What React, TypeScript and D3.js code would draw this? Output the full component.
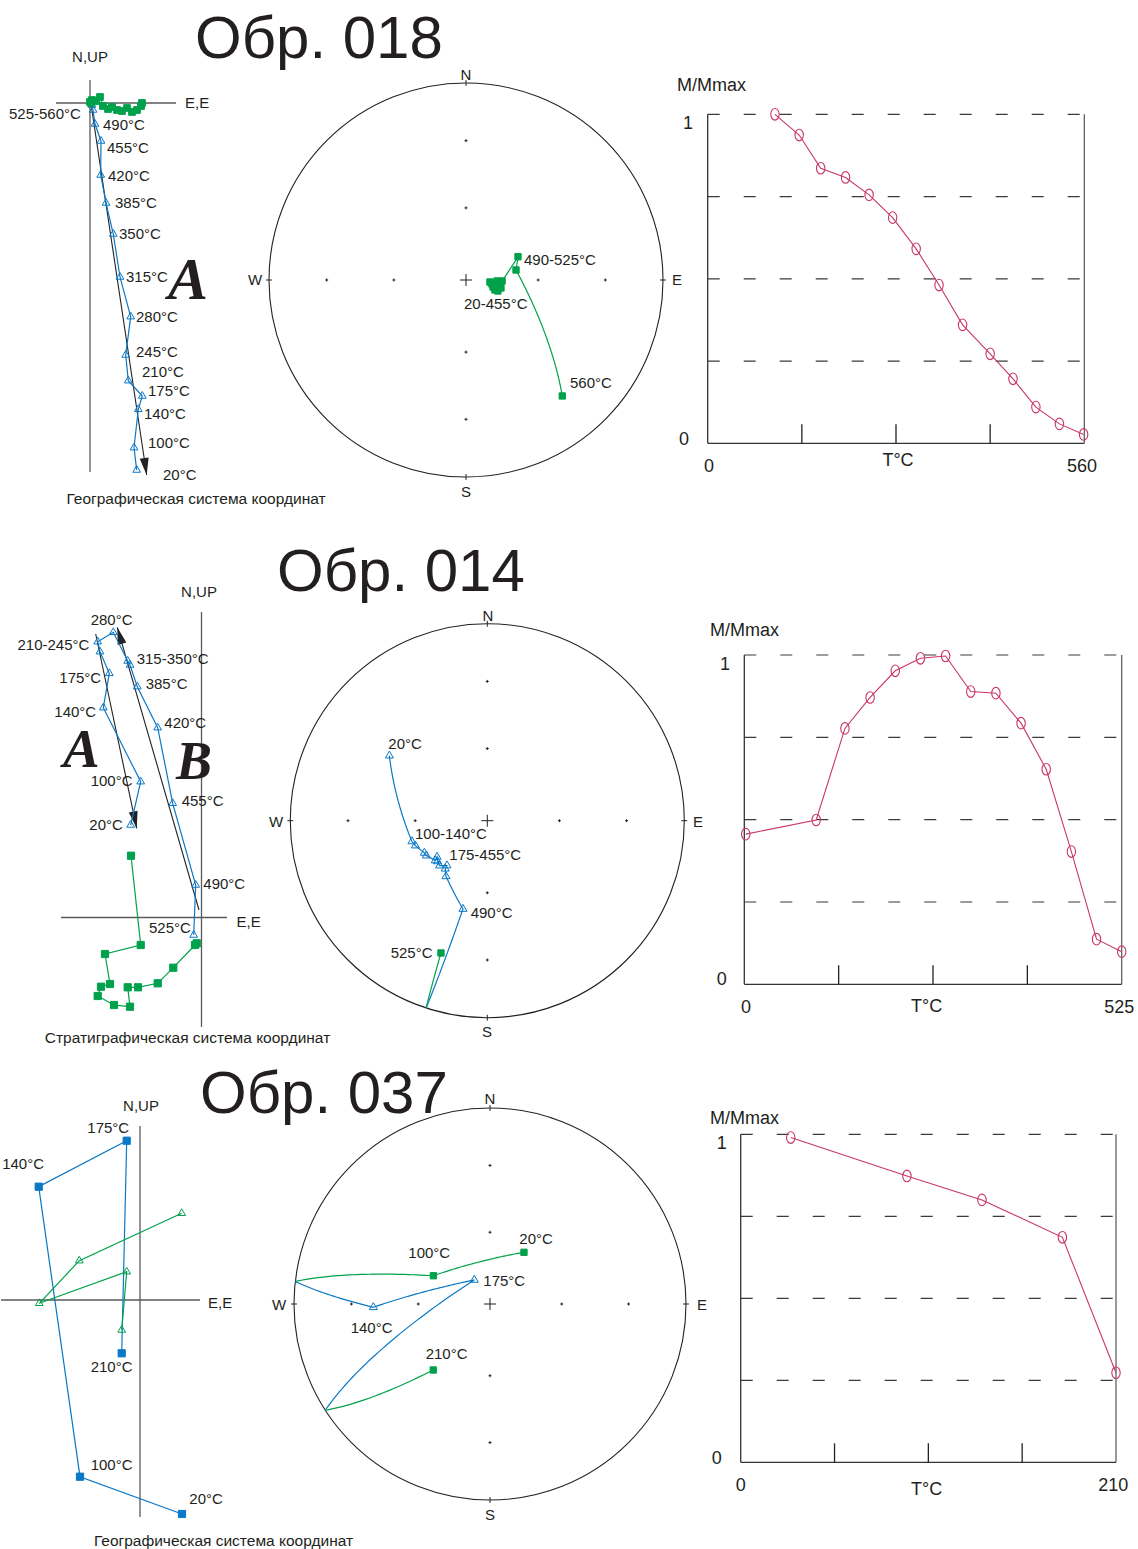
import React from "react";
import * as d3 from "d3";

type Pt = [number, number];

const FONT = "'Liberation Sans', Arial, Helvetica, sans-serif";
const SERIF = "'Liberation Serif', 'Times New Roman', serif";
const INK = "#231f20";
const AXIS = "#5a5a5a";
const GREEN = "#00a14b";
const BLUE = "#0a78c6";
const PINK = "#c8366c";

// ---------- Обр. 018 ----------
const steps018 = [20, 100, 140, 175, 210, 245, 280, 315, 350, 385, 420, 455, 490, 525, 560];
// Zijderveld, horizontal projection [E, N]
const zij018Hor: Pt[] = [
  [5.2, 0], [5.1, -0.3], [4.7, -0.7], [4.2, -0.9], [3.7, -0.5], [3.2, -0.8], [2.7, -0.7], [2.2, -0.4],
  [1.8, -0.6], [1.3, -0.3], [1.0, 0.6], [0.6, 0.2], [0.2, 0.3], [0.1, 0], [0, 0.1],
];
// vertical projection [E, Up]
const zij018Ver: Pt[] = [
  [4.67, -36.7], [4.4, -34.47], [4.83, -30.63], [5.23, -29.3], [3.83, -27.77], [3.57, -25.2], [4.07, -21.37],
  [3.0, -17.4], [2.33, -13.1], [1.6, -10.0], [1.07, -7.2], [1.1, -3.8], [0.5, -2.1], [0.3, -0.7], [0.2, -0.2],
];
const fit018: Pt[][] = [[[0.1, -0.1], [5.67, -37.2]]];
// stereonet [Dec, Inc]
const dir018: Pt[] = [
  [94.8, 80.1], [98.1, 78.3], [91.8, 77.2], [100.3, 76.2], [106.7, 77.1], [102.9, 75.2], [104.5, 78.5],
  [109, 76.1], [98.7, 79.2], [95, 75.9], [109, 77.4], [91.6, 75.1], [65.9, 66.4], [78.7, 68.9], [140.3, 24.5],
];
const demT018 = [100, 136, 168, 205, 240, 275, 310, 344, 379, 420, 454, 488, 523, 559];
const demM018 = [1.0, 0.937, 0.836, 0.808, 0.755, 0.686, 0.591, 0.481, 0.36, 0.272, 0.196, 0.11, 0.059, 0.027];

// ---------- Обр. 014 ----------
const steps014 = [20, 100, 140, 175, 210, 245, 280, 315, 350, 385, 420, 455, 490, 525];
const zij014Hor: Pt[] = [
  [-7.05, 6.18], [-6.08, -2.75], [-9.65, -3.65], [-9.15, -6.65], [-10.05, -6.92], [-10.38, -7.85], [-8.75, -8.75],
  [-7.15, -8.92], [-7.38, -6.98], [-6.35, -6.98], [-4.38, -6.58], [-2.82, -5.02], [-0.65, -2.75], [-0.48, -2.58],
];
const zij014Ver: Pt[] = [
  [-7.08, 9.25], [-6.08, 13.58], [-9.82, 20.98], [-9.22, 24.42], [-10.15, 26.58], [-10.38, 27.58], [-8.82, 28.52],
  [-7.38, 25.65], [-7.15, 25.25], [-6.42, 23.08], [-4.38, 18.98], [-2.88, 11.42], [-0.58, 3.25], [-0.78, -1.75],
];
const fit014: Pt[][] = [
  [[-10.58, 28.35], [-6.48, 8.92]],
  [[-0.25, 0.75], [-8.42, 29.02]],
];
const dir014: Pt[] = [
  [303.6, -40.1], [254.6, -57.4], [250.9, -58.3], [242.9, -60.6], [240.2, -60.8], [232.6, -62.8], [234.2, -64.3],
  [230.7, -63.3], [226.7, -62.8], [222.0, -65.0], [221.2, -63.5], [216.6, -61.2], [195.4, -51.6], [199.3, 29.6],
];
const demT014 = [2, 100, 140, 175, 210, 245, 280, 315, 350, 385, 420, 455, 490, 525];
const demM014 = [0.456, 0.499, 0.777, 0.871, 0.952, 0.99, 0.997, 0.889, 0.884, 0.793, 0.653, 0.403, 0.137, 0.099];

// ---------- Обр. 037 ----------
const steps037 = [20, 100, 140, 175, 210];
const zij037Hor: Pt[] = [[4.2, -21.4], [-6.0, -17.67], [-10.13, 11.33], [-1.33, 15.93], [-1.83, -5.33]];
const zij037Ver: Pt[] = [[4.17, 8.67], [-6.07, 3.93], [-10.07, -0.33], [-1.33, 2.83], [-1.83, -3.0]];
const dir037: Pt[] = [[33.3, 64.2], [296.5, 63.6], [268.4, -40.2], [326.8, -78.1], [220.7, 53.4]];
const demT037 = [28, 93, 135, 180, 210];
const demM037 = [0.99, 0.873, 0.8, 0.686, 0.273];

const deg = (t: number | string) => `${t}°C`;

const Txt = ({ x, y, children, size = 15, anchor = "start", family = FONT }: any) => (
  <text x={x} y={y} dy="0.35em" fontSize={size} textAnchor={anchor} fontFamily={family} fill={INK}>
    {children}
  </text>
);

function arrowHead(x1: number, y1: number, x2: number, y2: number, L = 17, w = 4.5) {
  const dx = x2 - x1, dy = y2 - y1, len = Math.hypot(dx, dy);
  const ux = dx / len, uy = dy / len;
  const bx = x2 - ux * L, by = y2 - uy * L;
  return `M${x2},${y2}L${bx - uy * w},${by + ux * w}L${bx + uy * w},${by - ux * w}Z`;
}

const sym = (type: "square" | "triangle", size: number) =>
  d3.symbol().type(type === "square" ? d3.symbolSquare : d3.symbolTriangle).size(size)() as string;

function Zijderveld({ cfg }: any) {
  const x = d3.scaleLinear().domain([0, 1]).range([cfg.ox, cfg.ox + cfg.k]);
  const y = d3.scaleLinear().domain([0, 1]).range([cfg.oy, cfg.oy - cfg.k]);
  const line = d3.line<Pt>().x((d) => x(d[0])).y((d) => y(d[1]));
  return (
    <g>
      <line x1={x(cfg.xDom[0])} x2={x(cfg.xDom[1])} y1={y(0)} y2={y(0)} stroke={AXIS} strokeWidth={1.3} />
      <line x1={x(0)} x2={x(0)} y1={y(cfg.yDom[0])} y2={y(cfg.yDom[1])} stroke={AXIS} strokeWidth={1.3} />
      {cfg.fits.map((f: Pt[], i: number) => {
        const [x1, y1, x2, y2] = [x(f[0][0]), y(f[0][1]), x(f[1][0]), y(f[1][1])];
        return (
          <g key={i}>
            <line x1={x1} y1={y1} x2={x2} y2={y2} stroke="#222" strokeWidth={1.1} />
            <path d={arrowHead(x1, y1, x2, y2)} fill="#222" />
          </g>
        );
      })}
      {cfg.series.map((s: any, i: number) => (
        <g key={i}>
          <path d={line(s.pts) as string} fill="none" stroke={s.color} strokeWidth={1.2} />
          {s.pts.map((p: Pt, j: number) => (
            <path key={j} transform={`translate(${x(p[0])},${y(p[1])})`} d={sym(s.symbol, s.size)}
              fill={s.filled ? s.color : "none"} stroke={s.color} strokeWidth={1} />
          ))}
        </g>
      ))}
      <Txt x={cfg.nup[0]} y={cfg.nup[1]} anchor="middle">N,UP</Txt>
      <Txt x={cfg.ee[0]} y={cfg.ee[1]}>E,E</Txt>
      {cfg.labels.map((l: any, i: number) => <Txt key={i} x={l[1]} y={l[2]}>{l[0]}</Txt>)}
      {cfg.letters.map((l: any, i: number) => (
        <text key={i} x={l[1]} y={l[2]} fontFamily={SERIF} fontWeight="bold" fontStyle="italic"
          fontSize={l[3]} fill={INK}>{l[0]}</text>
      ))}
      <Txt x={cfg.caption[1]} y={cfg.caption[2]} size={15.5} anchor="middle">{cfg.caption[0]}</Txt>
    </g>
  );
}

function Stereonet({ cfg }: any) {
  const { cx, cy, R } = cfg;
  const sx = d3.scaleLinear().domain([-1, 1]).range([cx - R, cx + R]);
  const sy = d3.scaleLinear().domain([-1, 1]).range([cy + R, cy - R]);
  const rhoOf = (inc: number) => Math.SQRT2 * Math.sin(((90 - Math.abs(inc)) * Math.PI) / 360);
  const proj = (d: Pt): Pt => {
    const r = rhoOf(d[1]);
    const a = (d[0] * Math.PI) / 180;
    return [sx(r * Math.sin(a)), sy(r * Math.cos(a))];
  };
  const dirs: Pt[] = cfg.dirs;
  // great-circle paths between successive steps, split where they cross the primitive
  const runs: { lower: boolean; pts: Pt[] }[] = [];
  let cur: { lower: boolean; pts: Pt[] } | null = null;
  const N = 60;
  for (let i = 0; i < dirs.length - 1; i++) {
    const ip = d3.geoInterpolate(dirs[i], dirs[i + 1]);
    for (let j = 0; j <= N; j++) {
      const t = j / N;
      const p = ip(t) as Pt;
      const lower = p[1] >= 0;
      if (!cur) {
        cur = { lower, pts: [proj(p)] };
        runs.push(cur);
      } else if (lower !== cur.lower) {
        let a = Math.max(0, (j - 1) / N), b = t;
        for (let k = 0; k < 30; k++) {
          const m = (a + b) / 2;
          if (((ip(m) as Pt)[1] >= 0) === cur.lower) a = m; else b = m;
        }
        const c = proj(ip((a + b) / 2) as Pt);
        cur.pts.push(c);
        cur = { lower, pts: [c, proj(p)] };
        runs.push(cur);
      } else cur.pts.push(proj(p));
    }
  }
  const line = d3.line<Pt>();
  const inner = [rhoOf(60), rhoOf(30)];
  const dots: Pt[] = [];
  inner.forEach((r) => { dots.push([r, 0], [-r, 0], [0, r], [0, -r]); });
  return (
    <g>
      <circle cx={cx} cy={cy} r={R} fill="none" stroke="#222" strokeWidth={1.1} />
      {[[0, 1], [0, -1], [1, 0], [-1, 0]].map(([a, b], i) => (
        <line key={i} x1={sx(a * 1.015)} x2={sx(a * 0.985)} y1={sy(b * 1.015)} y2={sy(b * 0.985)}
          stroke="#222" strokeWidth={1} />
      ))}
      <path d={`M${cx - 6},${cy}H${cx + 6}M${cx},${cy - 6}V${cy + 6}`} stroke="#222" strokeWidth={1} />
      {dots.map((d, i) => (
        <path key={i} d={`M${sx(d[0]) - 1.5},${sy(d[1])}h3M${sx(d[0])},${sy(d[1]) - 1.5}v3`}
          stroke="#222" strokeWidth={1} />
      ))}
      {runs.map((r, i) => (
        <path key={i} d={line(r.pts) as string} fill="none" stroke={r.lower ? GREEN : BLUE} strokeWidth={1.2} />
      ))}
      {dirs.map((d, i) => {
        const [px, py] = proj(d);
        const lower = d[1] >= 0;
        return (
          <path key={i} transform={`translate(${px},${py})`}
            d={lower ? sym("square", 40) : sym("triangle", 28)}
            fill={lower ? GREEN : "none"} stroke={lower ? GREEN : BLUE} strokeWidth={1} />
        );
      })}
      {cfg.compass.map((c: any, i: number) => <Txt key={i} x={c[1]} y={c[2]} anchor="middle">{c[0]}</Txt>)}
      {cfg.labels.map((l: any, i: number) => <Txt key={i} x={l[1]} y={l[2]}>{l[0]}</Txt>)}
    </g>
  );
}

function Demag({ cfg }: any) {
  const x = d3.scaleLinear().domain([0, cfg.tmax]).range([cfg.left, cfg.right]);
  const y = d3.scaleLinear().domain([0, 1]).range([cfg.bottom, cfg.top]);
  const pts: Pt[] = cfg.T.map((t: number, i: number) => [t, cfg.M[i]]);
  const line = d3.line<Pt>().x((d) => x(d[0])).y((d) => y(d[1]));
  const ticks = [1, 2, 3].map((i) => (cfg.tmax * i) / 4);
  const grid = [0.25, 0.5, 0.75, 1];
  return (
    <g>
      {grid.map((g) => (
        <line key={g} x1={x(0)} x2={x(cfg.tmax)} y1={y(g)} y2={y(g)} stroke="#3a3a3a"
          strokeWidth={1.2} strokeDasharray="12 24" />
      ))}
      <line x1={x(0)} x2={x(0)} y1={y(0)} y2={y(1)} stroke="#333" strokeWidth={1.3} />
      <line x1={x(cfg.tmax)} x2={x(cfg.tmax)} y1={y(0)} y2={y(1)} stroke="#555" strokeWidth={1.2} />
      <line x1={x(0)} x2={x(cfg.tmax)} y1={y(0)} y2={y(0)} stroke="#333" strokeWidth={1.3} />
      {ticks.map((t) => (
        <line key={t} x1={x(t)} x2={x(t)} y1={y(0)} y2={y(0) - 19} stroke="#222" strokeWidth={1.3} />
      ))}
      <path d={line(pts) as string} fill="none" stroke={PINK} strokeWidth={1.1} />
      {pts.map((p, i) => (
        <ellipse key={i} cx={x(p[0])} cy={y(p[1])} rx={4.2} ry={5.8} fill="none" stroke={PINK} strokeWidth={1.1} />
      ))}
      {cfg.labels.map((l: any, i: number) => (
        <Txt key={i} x={l[1]} y={l[2]} size={18} anchor={l[3] || "middle"}>{l[0]}</Txt>
      ))}
    </g>
  );
}

const panels = [
  {
    title: ["Обр. 018", 195, 58],
    zij: {
      ox: 90, oy: 103, k: 10, xDom: [-3.4, 8.6], yDom: [2.3, -36.9],
      series: [
        { pts: zij018Ver, color: BLUE, symbol: "triangle", size: 26, filled: false },
        { pts: zij018Hor, color: GREEN, symbol: "square", size: 45, filled: true },
      ],
      fits: fit018, nup: [90, 57], ee: [185, 103],
      labels: [
        [deg("525-560"), 9, 114], [deg(steps018[12]), 103, 125], [deg(steps018[11]), 107, 148],
        [deg(steps018[10]), 108, 176], [deg(steps018[9]), 115, 202.5], [deg(steps018[8]), 119, 234],
        [deg(steps018[7]), 126, 276.5], [deg(steps018[6]), 136, 316.5], [deg(steps018[5]), 136, 351.5],
        [deg(steps018[4]), 142, 371.5], [deg(steps018[3]), 148, 390.5], [deg(steps018[2]), 144, 414],
        [deg(steps018[1]), 148, 443], [deg(steps018[0]), 163, 475],
      ],
      letters: [["A", 168, 299, 60]],
      caption: ["Географическая система координат", 196, 499],
    },
    ster: {
      cx: 466, cy: 280, R: 197, dirs: dir018,
      compass: [["N", 466, 75], ["S", 466, 492], ["W", 255, 280], ["E", 677, 280]],
      labels: [[deg("490-525"), 524, 260], [deg("20-455"), 464, 304], [deg(560), 570, 383]],
    },
    dem: {
      left: 707.7, right: 1084.3, top: 114.3, bottom: 443.3, tmax: 560, T: demT018, M: demM018,
      labels: [["M/Mmax", 677, 85, "start"], ["1", 688, 123], ["0", 684, 439], ["0", 709, 466],
        ["T°C", 898, 460], ["560", 1082, 466]],
    },
  },
  {
    title: ["Обр. 014", 277, 591],
    zij: {
      ox: 201.5, oy: 917.5, k: 10, xDom: [-14.05, 2.55], yDom: [30.55, -10.95],
      series: [
        { pts: zij014Ver, color: BLUE, symbol: "triangle", size: 26, filled: false },
        { pts: zij014Hor, color: GREEN, symbol: "square", size: 52, filled: true },
      ],
      fits: fit014, nup: [199, 592], ee: [236.5, 921.5],
      labels: [
        [deg(steps014[6]), 90.7, 619.3], [deg("210-245"), 17.5, 644.3], [deg("315-350"), 136.7, 659],
        [deg(steps014[3]), 59.3, 677.3], [deg(steps014[9]), 145.7, 684], [deg(steps014[2]), 54.3, 711.7],
        [deg(steps014[10]), 164.3, 722.5], [deg(steps014[1]), 90.7, 781], [deg(steps014[11]), 181.7, 800.7],
        [deg(steps014[0]), 89.3, 824.3], [deg(steps014[12]), 203.3, 883.3], [deg(steps014[13]), 149, 927.3],
      ],
      letters: [["A", 63, 767, 55], ["B", 176, 779, 54]],
      caption: ["Стратиграфическая система координат", 187.5, 1038],
    },
    ster: {
      cx: 487.3, cy: 820.7, R: 197, dirs: dir014,
      compass: [["N", 488, 616], ["S", 487, 1032], ["W", 276, 822], ["E", 698, 822]],
      labels: [[deg(20), 388.3, 744], [deg("100-140"), 415, 833.3], [deg("175-455"), 449.3, 855],
        [deg(490), 470.7, 912.7], [deg(525), 390.7, 952.3]],
    },
    dem: {
      left: 744.3, right: 1121.7, top: 655, bottom: 984.3, tmax: 525, T: demT014, M: demM014,
      labels: [["M/Mmax", 710, 630, "start"], ["1", 725, 664], ["0", 721.7, 978.3], ["0", 746, 1006.7],
        ["T°C", 926.7, 1006], ["525", 1119.3, 1006.7]],
    },
  },
  {
    title: ["Обр. 037", 200, 1113],
    zij: {
      ox: 140, oy: 1300, k: 10, xDom: [-13.9, 6.0], yDom: [17.4, -21.7],
      series: [
        { pts: zij037Hor, color: BLUE, symbol: "square", size: 52, filled: true },
        { pts: zij037Ver, color: GREEN, symbol: "triangle", size: 26, filled: false },
      ],
      fits: [], nup: [141, 1106], ee: [208, 1303],
      labels: [
        [deg(steps037[3]), 87.3, 1127.7], [deg(steps037[2]), 2.2, 1163.3], [deg(steps037[4]), 90.7, 1366.7],
        [deg(steps037[1]), 90.7, 1465], [deg(steps037[0]), 189.3, 1498.3],
      ],
      letters: [],
      caption: ["Географическая система координат", 223.5, 1541],
    },
    ster: {
      cx: 490, cy: 1304, R: 196, dirs: dir037,
      compass: [["N", 490, 1099], ["S", 490, 1515], ["W", 279, 1305], ["E", 702, 1305]],
      labels: [[deg(20), 519.3, 1238.3], [deg(100), 408.3, 1252.7], [deg(175), 483.3, 1281],
        [deg(140), 350.7, 1327.3], [deg(210), 425.7, 1353.3]],
    },
    dem: {
      left: 740.7, right: 1116, top: 1134.3, bottom: 1462.3, tmax: 210, T: demT037, M: demM037,
      labels: [["M/Mmax", 710, 1117.3, "start"], ["1", 721.7, 1142.3], ["0", 716.7, 1457.3],
        ["0", 740.7, 1485], ["T°C", 926.7, 1488.3], ["210", 1113.3, 1485]],
    },
  },
];

export default function App() {
  return (
    <svg width={1138} height={1549} viewBox="0 0 1138 1549"
      style={{ position: "absolute", left: 0, top: 0, background: "#fff" }}>
      <rect width={1138} height={1549} fill="#fff" />
      {panels.map((p, i) => (
        <g key={i}>
          <text x={p.title[1] as number} y={p.title[2] as number} fontFamily={FONT} fontSize={60} fill={INK}>
            {p.title[0]}
          </text>
          <Zijderveld cfg={p.zij} />
          <Stereonet cfg={p.ster} />
          <Demag cfg={p.dem} />
        </g>
      ))}
    </svg>
  );
}
